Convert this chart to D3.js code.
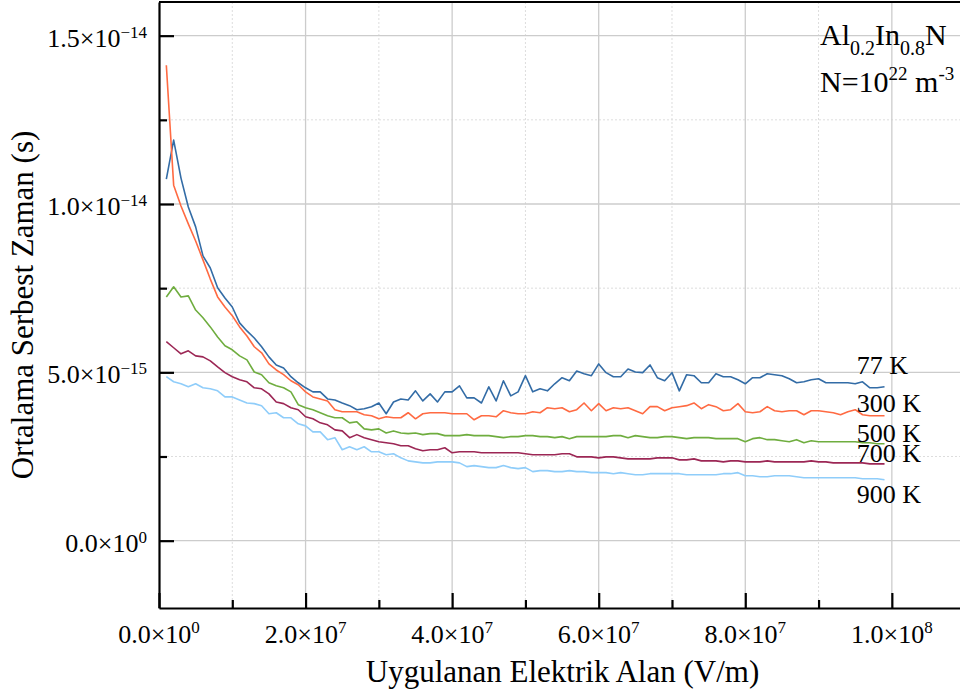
<!DOCTYPE html>
<html>
<head>
<meta charset="utf-8">
<script src="https://cdn.jsdelivr.net/npm/d3@7"></script>
<style>
  body { margin: 0; background: #fff; }
  text { font-family: "Liberation Serif", "Times New Roman", serif; fill: #000; }
</style>
</head>
<body>
<script>
// applied field, in units of 1e6 V/m
var fieldMV = d3.range(1, 100);

var temps = ["77 K", "300 K", "500 K", "700 K", "900 K"];

// mean free time, in units of 1e-15 s
var tau77 = [10.74, 11.90, 10.77, 9.91, 9.32, 8.46, 8.10, 7.51, 7.21, 6.94,
  6.47, 6.23, 6.02, 5.76, 5.46, 5.22, 5.13, 4.87, 4.69, 4.54,
  4.42, 4.42, 4.21, 4.18, 4.09, 4.01, 3.89, 3.92, 3.98, 4.09,
  3.77, 4.12, 4.21, 4.18, 4.45, 4.15, 4.36, 4.12, 4.42, 4.42,
  4.60, 4.24, 4.24, 4.09, 4.57, 4.15, 4.75, 4.30, 4.42, 4.90,
  4.42, 4.51, 4.45, 4.66, 4.84, 4.75, 5.04, 4.96, 4.90, 5.25,
  4.99, 4.87, 4.87, 5.10, 5.01, 4.99, 5.22, 4.84, 4.75, 4.99,
  4.45, 4.93, 4.90, 4.69, 4.69, 4.96, 4.87, 4.87, 4.78, 4.66,
  4.84, 4.84, 4.96, 4.93, 4.90, 4.81, 4.69, 4.72, 4.78, 4.81,
  4.69, 4.69, 4.69, 4.69, 4.66, 4.72, 4.54, 4.54, 4.57];
var tau300 = [14.12, 10.56, 9.94, 9.41, 8.90, 8.34, 7.77, 7.24, 6.94, 6.68,
  6.35, 6.08, 5.76, 5.58, 5.25, 5.07, 4.93, 4.75, 4.63, 4.42,
  4.27, 4.21, 4.15, 3.89, 3.83, 3.83, 3.83, 3.74, 3.71, 3.62,
  3.68, 3.65, 3.65, 3.80, 3.62, 3.77, 3.80, 3.80, 3.80, 3.77,
  3.77, 3.77, 3.59, 3.71, 3.71, 3.68, 3.86, 3.80, 3.77, 3.77,
  3.83, 3.80, 3.95, 3.92, 3.95, 3.83, 3.89, 4.09, 3.86, 4.07,
  3.86, 3.95, 3.92, 3.95, 3.86, 3.77, 3.98, 3.98, 3.86, 3.95,
  3.98, 4.01, 4.09, 3.92, 4.04, 3.98, 3.86, 3.89, 4.07, 3.83,
  3.80, 3.83, 3.98, 3.86, 3.83, 3.86, 3.86, 3.74, 3.86, 3.86,
  3.83, 3.80, 3.74, 3.83, 3.89, 3.74, 3.71, 3.71, 3.71];
var tau500 = [7.24, 7.54, 7.24, 7.27, 6.85, 6.62, 6.35, 6.05, 5.79, 5.67,
  5.49, 5.37, 5.01, 4.93, 4.69, 4.60, 4.54, 4.42, 4.04, 3.95,
  3.89, 3.80, 3.71, 3.65, 3.65, 3.50, 3.53, 3.32, 3.29, 3.32,
  3.20, 3.26, 3.20, 3.18, 3.20, 3.15, 3.18, 3.18, 3.12, 3.12,
  3.12, 3.15, 3.12, 3.12, 3.12, 3.09, 3.06, 3.09, 3.09, 3.12,
  3.12, 3.09, 3.09, 3.06, 3.09, 3.03, 3.09, 3.09, 3.09, 3.09,
  3.09, 3.12, 3.12, 3.06, 3.12, 3.09, 3.06, 3.06, 3.09, 3.09,
  3.06, 3.03, 3.06, 3.06, 3.06, 3.03, 3.03, 3.03, 3.03, 2.94,
  3.03, 3.06, 3.00, 3.00, 2.97, 2.94, 3.00, 2.91, 2.97, 2.94,
  2.94, 2.94, 2.94, 2.94, 2.94, 2.91, 2.91, 2.88, 2.88];
var tau700 = [5.91, 5.73, 5.55, 5.64, 5.49, 5.46, 5.34, 5.16, 4.99, 4.87,
  4.78, 4.72, 4.54, 4.51, 4.36, 4.12, 4.07, 3.95, 3.89, 3.68,
  3.62, 3.50, 3.44, 3.29, 3.26, 3.06, 3.15, 3.06, 3.00, 2.94,
  2.91, 2.88, 2.82, 2.82, 2.73, 2.67, 2.70, 2.70, 2.76, 2.61,
  2.64, 2.64, 2.64, 2.61, 2.61, 2.61, 2.61, 2.61, 2.61, 2.58,
  2.55, 2.55, 2.55, 2.55, 2.58, 2.58, 2.49, 2.49, 2.49, 2.46,
  2.49, 2.49, 2.46, 2.43, 2.43, 2.43, 2.43, 2.46, 2.46, 2.46,
  2.40, 2.40, 2.43, 2.37, 2.37, 2.37, 2.34, 2.37, 2.37, 2.34,
  2.34, 2.34, 2.37, 2.34, 2.34, 2.34, 2.34, 2.34, 2.37, 2.34,
  2.34, 2.31, 2.31, 2.31, 2.31, 2.31, 2.28, 2.28, 2.28];
var tau900 = [4.87, 4.72, 4.66, 4.57, 4.66, 4.54, 4.51, 4.45, 4.27, 4.27,
  4.18, 4.09, 4.07, 4.01, 3.77, 3.80, 3.65, 3.65, 3.47, 3.41,
  3.23, 3.23, 3.00, 3.06, 2.70, 2.79, 2.70, 2.79, 2.64, 2.64,
  2.55, 2.58, 2.46, 2.37, 2.34, 2.31, 2.31, 2.34, 2.34, 2.34,
  2.31, 2.20, 2.23, 2.20, 2.17, 2.17, 2.23, 2.17, 2.14, 2.17,
  2.05, 2.08, 2.08, 2.05, 2.05, 2.08, 2.05, 2.05, 2.02, 2.02,
  2.02, 1.99, 2.02, 1.99, 1.96, 1.96, 1.99, 1.99, 1.99, 1.99,
  1.99, 1.96, 1.96, 1.96, 1.96, 1.96, 1.99, 1.99, 2.02, 1.93,
  1.93, 1.90, 1.90, 1.93, 1.93, 1.93, 1.90, 1.87, 1.87, 1.87,
  1.87, 1.87, 1.87, 1.87, 1.87, 1.84, 1.84, 1.84, 1.81];

var allTau = [tau77, tau300, tau500, tau700, tau900];
var colors = ["#336ca6", "#ff6a42", "#6fad3f", "#9c2755", "#8fcdfa"];

// tick values and labels
var xMajor = [0, 2e7, 4e7, 6e7, 8e7, 1e8];
var xMinor = [1e7, 3e7, 5e7, 7e7, 9e7];
var xMant = ["0.0", "2.0", "4.0", "6.0", "8.0", "1.0"];
var xExp = ["0", "7", "7", "7", "7", "8"];
var yMajor = [0, 5e-15, 1e-14, 1.5e-14];
var yMinor = [2.5e-15, 7.5e-15, 1.25e-14];
var yMant = ["0.0", "5.0", "1.0", "1.5"];
var yExp = ["0", "\u221215", "\u221214", "\u221214"];

// where the curve names sit (1e-15 s)
var labelTau = [4.96, 3.83, 2.94, 2.34, 1.13];

var margin = {top: 2, right: 0, bottom: 89, left: 159},
    width = 960 - margin.left - margin.right,
    height = 697 - margin.top - margin.bottom;

var x = d3.scaleLinear().domain([0, 1.093e8]).range([0, width]);
var y = d3.scaleLinear().domain([-2e-15, 1.6e-14]).range([height, 0]);

var svg = d3.select("body").append("svg")
    .attr("width", 960)
    .attr("height", 697);
var g = svg.append("g")
    .attr("transform", "translate(" + margin.left + "," + margin.top + ")");

// grid: minor dotted, major solid
g.selectAll(".vminor").data(xMinor).enter().append("line")
    .attr("x1", d => x(d)).attr("x2", d => x(d))
    .attr("y1", 0).attr("y2", height)
    .attr("stroke", "#dddddd").attr("stroke-width", 1).attr("stroke-dasharray", "2,2");
g.selectAll(".hminor").data(yMinor).enter().append("line")
    .attr("x1", 0).attr("x2", width)
    .attr("y1", d => y(d)).attr("y2", d => y(d))
    .attr("stroke", "#dddddd").attr("stroke-width", 1).attr("stroke-dasharray", "2,2");
g.selectAll(".vmajor").data(xMajor.slice(1)).enter().append("line")
    .attr("x1", d => x(d)).attr("x2", d => x(d))
    .attr("y1", 0).attr("y2", height)
    .attr("stroke", "#cccccc").attr("stroke-width", 1.3);
g.selectAll(".hmajor").data(yMajor).enter().append("line")
    .attr("x1", 0).attr("x2", width)
    .attr("y1", d => y(d)).attr("y2", d => y(d))
    .attr("stroke", "#cccccc").attr("stroke-width", 1.3);

// curves
var line = d3.line()
    .x((d, i) => x(fieldMV[i] * 1e6))
    .y(d => y(d * 1e-15));

allTau.forEach(function(s, k) {
  g.append("path")
      .datum(s)
      .attr("fill", "none")
      .attr("stroke", colors[k])
      .attr("stroke-width", 1.6)
      .attr("stroke-linejoin", "round")
      .attr("d", line);
});

// curve names
g.selectAll(".tlabel").data(temps).enter().append("text")
    .attr("x", x(9.52e7))
    .attr("y", (d, i) => y(labelTau[i] * 1e-15))
    .style("font-size", "26px")
    .text(d => d);

// axes, ticks pointing inward
g.append("g")
    .call(d3.axisLeft(y).tickValues(yMajor).tickSize(-15).tickSizeOuter(0).tickFormat(""))
    .call(a => a.select(".domain").attr("stroke-width", 2.2))
    .call(a => a.selectAll(".tick line").attr("stroke-width", 2.2));
g.append("g")
    .call(d3.axisLeft(y).tickValues(yMinor).tickSize(-8).tickFormat(""))
    .call(a => a.select(".domain").remove())
    .call(a => a.selectAll(".tick line").attr("stroke-width", 2.2));
g.append("g")
    .attr("transform", "translate(0," + height + ")")
    .call(d3.axisBottom(x).tickValues(xMajor).tickSize(-15).tickSizeOuter(0).tickFormat(""))
    .call(a => a.select(".domain").attr("stroke-width", 2.2))
    .call(a => a.selectAll(".tick line").attr("stroke-width", 2.2));
g.append("g")
    .attr("transform", "translate(0," + height + ")")
    .call(d3.axisBottom(x).tickValues(xMinor).tickSize(-8).tickFormat(""))
    .call(a => a.select(".domain").remove())
    .call(a => a.selectAll(".tick line").attr("stroke-width", 2.2));
g.append("line")
    .attr("x1", 0).attr("x2", width).attr("y1", 0).attr("y2", 0)
    .attr("stroke", "#000").attr("stroke-width", 2.2);

// tick labels m.m x 10^e
function sci(sel, mant, exp, raise) {
  sel.append("tspan").text(mant + "\u00d710");
  sel.append("tspan").attr("dy", -raise).style("font-size", "17px").text(exp);
}

g.selectAll(".ylab").data(yMajor).enter().append("text")
    .attr("x", -12)
    .attr("y", d => y(d) + 11)
    .attr("text-anchor", "end")
    .style("font-size", "26px")
    .each(function(d, i) { sci(d3.select(this), yMant[i], yExp[i], 9); });

g.selectAll(".xlab").data(xMajor).enter().append("text")
    .attr("x", d => x(d))
    .attr("y", height + 35)
    .attr("text-anchor", "middle")
    .style("font-size", "26px")
    .each(function(d, i) { sci(d3.select(this), xMant[i], xExp[i], 10); });

// axis titles
svg.append("text")
    .attr("x", margin.left + width / 2 + 3)
    .attr("y", 682)
    .attr("text-anchor", "middle")
    .style("font-size", "31px")
    .text("Uygulanan Elektrik Alan (V/m)");
svg.append("text")
    .attr("transform", "translate(33," + (margin.top + height / 2) + ") rotate(-90)")
    .attr("text-anchor", "middle")
    .style("font-size", "31px")
    .text("Ortalama Serbest Zaman (s)");

// material note
var n1 = svg.append("text").attr("x", 820).attr("y", 45).style("font-size", "30px");
n1.append("tspan").text("Al");
n1.append("tspan").attr("dy", 10).style("font-size", "20px").text("0.2");
n1.append("tspan").attr("dy", -10).text("In");
n1.append("tspan").attr("dy", 10).style("font-size", "20px").text("0.8");
n1.append("tspan").attr("dy", -10).text("N");

var n2 = svg.append("text").attr("x", 820).attr("y", 92).style("font-size", "30px");
n2.append("tspan").text("N=10");
n2.append("tspan").attr("dy", -12).style("font-size", "19px").text("22");
n2.append("tspan").attr("dy", 12).text(" m");
n2.append("tspan").attr("dy", -12).style("font-size", "19px").text("-3");
</script>
</body>
</html>
